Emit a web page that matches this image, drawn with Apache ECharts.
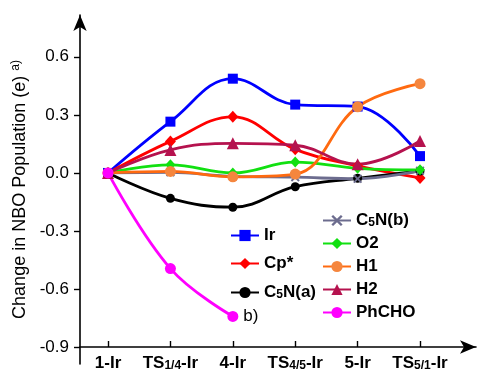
<!DOCTYPE html>
<html><head><meta charset="utf-8">
<script src="https://cdn.jsdelivr.net/npm/echarts@6/dist/echarts.min.js"></script>
<style>html,body{margin:0;padding:0;background:#fff}#c{width:478px;height:372px}</style>
</head><body><div id="c"></div>
<script>
// categories (x positions 0..5) with subscript parts
const categories = ['1-Ir', 'TS1/4-Ir', '4-Ir', 'TS4/5-Ir', '5-Ir', 'TS5/1-Ir'];
const categorySubs = ['', '1/4', '', '4/5', '', '5/1'];
const yTicks = [-0.9, -0.6, -0.3, 0.0, 0.3, 0.6];

const ir    = [0, 0.265, 0.487, 0.353, 0.343, 0.087];
const cp    = [0, 0.163, 0.290, 0.122, 0.036, -0.026];
const c5na  = [0, -0.131, -0.177, -0.071, -0.028, 0.010];
const c5nb  = [0, 0.003, -0.018, -0.022, -0.030, 0.012];
const o2    = [0, 0.042, 0.000, 0.056, 0.024, 0.016];
const h1    = [0, 0.008, -0.020, -0.006, 0.342, 0.461];
const h2    = [0, 0.119, 0.153, 0.143, 0.045, 0.165];
const phcho = [0, -0.494, -0.741];

const FONT = 'Liberation Sans, Arial, sans-serif';
const pts = arr => arr.map((v, i) => [i, v]);
const xPath = 'path://M0,1.5L1.5,0L5,3.5L8.5,0L10,1.5L6.5,5L10,8.5L8.5,10L5,6.5L1.5,10L0,8.5L3.5,5Z';

function mk(name, data, color, symbol, size, mcolor, extra) {
  return Object.assign({
    name, type: 'line', data: pts(data), smooth: 0.4,
    symbol, symbolSize: size, showSymbol: true,
    lineStyle: { color, width: 2.8 },
    itemStyle: { color: mcolor || color },
    color: color,
    emphasis: { disabled: true }
  }, extra || {});
}

const subRich = {
  s: { fontSize: 12, fontWeight: 'bold', fontFamily: FONT, color: '#000', verticalAlign: 'bottom', padding: [6, 0, 0, 0], lineHeight: 17 },
  b: { fontSize: 17, fontWeight: 'bold', fontFamily: FONT, color: '#000', lineHeight: 17 }
};
const legendFmt = n => n.replace('C5N', 'C{s|5}N');

const chart = echarts.init(document.getElementById('c'), null, { renderer: 'canvas' });
chart.setOption({
  animation: false,
  backgroundColor: '#fff',
  grid: { left: 80, top: 15, width: 396, height: 351, containLabel: false },
  xAxis: {
    type: 'value', min: -0.449, max: 5.897, offset: -17,
    splitLine: { show: false },
    axisLine: { show: true, onZero: false, lineStyle: { color: '#000', width: 1.6 }, symbol: ['none', 'arrow'], symbolSize: [10, 16] },
    axisTick: { show: true, inside: true, length: 6, lineStyle: { color: '#000', width: 1.4 }, customValues: [0, 1, 2, 3, 4, 5] },
    axisLabel: {
      show: true, margin: 8, customValues: [0, 1, 2, 3, 4, 5],
      formatter: v => {
        const i = Math.round(v);
        const name = categories[i];
        const sub = categorySubs[i];
        if (!sub) return '{b|' + name + '}';
        const rest = name.replace('TS' + sub, '');
        return '{b|TS}{s|' + sub + '}{b|' + rest + '}';
      },
      rich: subRich
    }
  },
  yAxis: {
    type: 'value', min: -0.987, max: 0.816,
    splitLine: { show: false },
    axisLine: { show: true, onZero: false, lineStyle: { color: '#000', width: 1.6 }, symbol: ['none', 'arrow'], symbolSize: [10, 16] },
    axisTick: { show: true, inside: false, length: 6, lineStyle: { color: '#000', width: 1.4 }, customValues: yTicks },
    axisLabel: { show: true, margin: 11, customValues: yTicks, formatter: v => v.toFixed(1), fontSize: 17, fontFamily: FONT, color: '#000' },
    name: 'Change in NBO Population (e) {sup|a)}',
    nameLocation: 'middle', nameRotate: 90, nameGap: 49,
    nameTextStyle: {
      fontSize: 18, fontFamily: FONT, color: '#000',
      rich: { sup: { fontSize: 12, fontFamily: FONT, color: '#000', verticalAlign: 'top', padding: [0, 0, 9, 0] } }
    }
  },
  legend: [
    {
      data: ['Ir', 'Cp*', 'C5N(a)'], orient: 'vertical', left: 225, top: 222,
      itemWidth: 28, itemHeight: 14, itemGap: 11,
      formatter: legendFmt,
      textStyle: { fontSize: 17, fontWeight: 'bold', fontFamily: FONT, color: '#000', lineHeight: 17, rich: subRich },
      selectedMode: false
    },
    {
      data: ['C5N(b)', 'O2', 'H1', 'H2', 'PhCHO'], orient: 'vertical', left: 317, top: 206,
      itemWidth: 28, itemHeight: 14, itemGap: 6,
      formatter: legendFmt,
      textStyle: { fontSize: 17, fontWeight: 'bold', fontFamily: FONT, color: '#000', lineHeight: 17, rich: subRich },
      selectedMode: false
    }
  ],
  series: [
    mk('Ir', ir, '#0000ff', 'rect', 10),
    mk('Cp*', cp, '#ff0000', 'diamond', [11, 12]),
    mk('C5N(a)', c5na, '#000000', 'circle', 9),
    mk('C5N(b)', c5nb, '#6c6c8e', xPath, 9),
    mk('O2', o2, '#11e011', 'diamond', [10, 11]),
    mk('H1', h1, '#ff6a10', 'circle', 11, '#f5863e'),
    mk('H2', h2, '#b5124e', 'triangle', 12),
    mk('PhCHO', phcho, '#ff00ff', 'circle', 11, null, {
      label: {
        show: true, position: 'right', distance: 5, fontSize: 17, fontFamily: FONT, color: '#000',
        formatter: p => p.dataIndex === phcho.length - 1 ? 'b)' : ''
      }
    })
  ]
});
</script></body></html>
